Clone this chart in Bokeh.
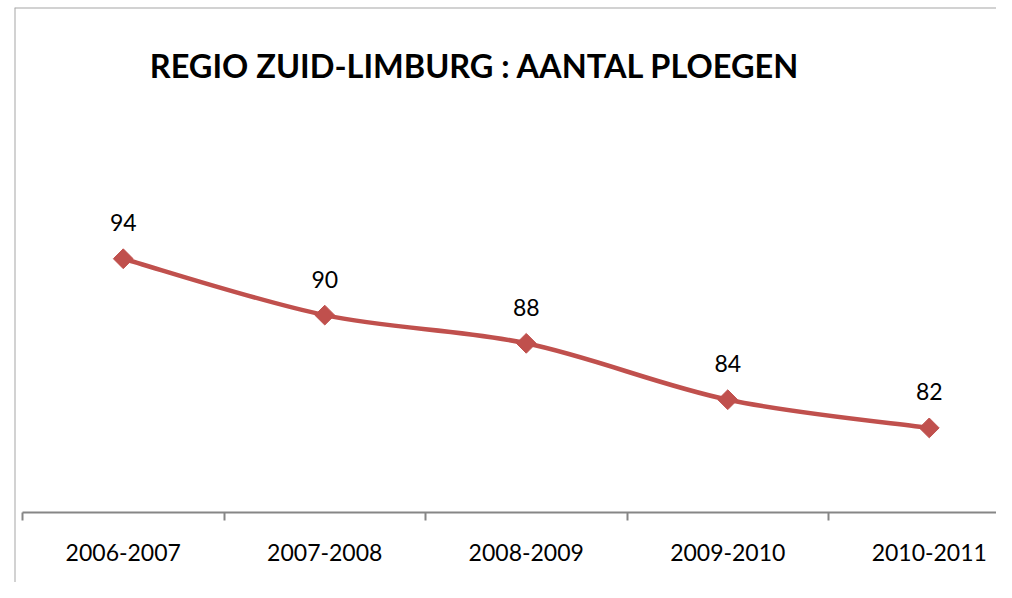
import numpy as np
from bokeh.plotting import figure
from bokeh.models import ColumnDataSource, FixedTicker, Label, Span, Range1d
from bokeh.core.properties import value
from bokeh.embed import file_html
from bokeh.resources import INLINE

# ---- data ----
seasons = ["2006-2007", "2007-2008", "2008-2009", "2009-2010", "2010-2011"]
ploegen = [94, 90, 88, 84, 82]
title_text = "REGIO ZUID-LIMBURG : AANTAL PLOEGEN"

RED = "#C0504D"
AXIS = "#868686"
BORDER = "#A6A6A6"
FONT = "Lato"

xc = np.arange(len(seasons)) + 0.5          # category centres
yv = np.array(ploegen, dtype=float)

# Excel-like smoothing: cubic Bezier control points (Catmull-Rom)
xe = np.concatenate([[xc[0]], xc, [xc[-1]]])
ye = np.concatenate([[yv[0]], yv, [yv[-1]]])
n = len(xc)
seg = dict(x0=[], y0=[], x1=[], y1=[], cx0=[], cy0=[], cx1=[], cy1=[])
for i in range(n - 1):
    a, b, c, d = i, i + 1, i + 2, i + 3
    seg["x0"].append(xe[b]); seg["y0"].append(ye[b])
    seg["x1"].append(xe[c]); seg["y1"].append(ye[c])
    seg["cx0"].append(xe[b] + (xe[c] - xe[a]) / 6.0)
    seg["cy0"].append(ye[b] + (ye[c] - ye[a]) / 6.0)
    seg["cx1"].append(xe[c] - (xe[d] - xe[b]) / 6.0)
    seg["cy1"].append(ye[c] - (ye[d] - ye[b]) / 6.0)

src = ColumnDataSource(dict(x=xc, y=yv, lbl=[str(v) for v in ploegen]))
bez = ColumnDataSource(seg)

X0, X1 = -0.0397, 4.8337
Y0, Y1 = 71.035, 111.82

p = figure(width=996, height=582, output_backend="svg", toolbar_location=None,
           x_range=Range1d(X0, X1), y_range=Range1d(Y0, Y1),
           x_axis_location="below", y_axis_location=None,
           min_border_left=14, min_border_right=0, min_border_top=7, min_border_bottom=0)
p.outline_line_color = None
p.xgrid.visible = False
p.ygrid.visible = False
p.background_fill_color = "white"
p.border_fill_color = "white"

# chart-area border (left and top visible in the reference)
p.add_layout(Span(location=X0, dimension="height", line_color=BORDER, line_width=2))
p.add_layout(Span(location=Y1, dimension="width", line_color=BORDER, line_width=2))

# category axis
ax = p.xaxis[0]
ax.fixed_location = 76
ax.bounds = (0, len(seasons))
ax.ticker = FixedTicker(ticks=list(xc), minor_ticks=list(range(len(seasons) + 1)))
ax.major_label_overrides = {float(x): s for x, s in zip(xc, seasons)}
ax.axis_line_color = AXIS
ax.axis_line_width = 2
ax.major_tick_line_color = None
ax.major_tick_out = 0
ax.major_tick_in = 0
ax.minor_tick_line_color = AXIS
ax.minor_tick_line_width = 2
ax.minor_tick_out = 8
ax.minor_tick_in = 0
ax.major_label_text_font = FONT
ax.major_label_text_font_size = "23px"
ax.major_label_text_color = "black"
ax.major_label_standoff = 23

# smoothed line + diamond markers
p.bezier(x0="x0", y0="y0", x1="x1", y1="y1", cx0="cx0", cy0="cy0", cx1="cx1", cy1="cy1",
         source=bez, line_color=RED, line_width=4.5)
p.scatter("x", "y", source=src, marker="square", size=14, angle=np.pi / 4,
          fill_color=RED, line_color=RED, line_width=1)

# data labels
p.text("x", "y", text="lbl", source=src, y_offset=-36, text_align="center",
       text_baseline="middle", text_font=value(FONT), text_font_size="23px",
       text_color="black")

# chart title
p.add_layout(Label(x=2.2457, y=107.74, text=title_text, text_align="center",
                   text_baseline="middle", text_font=FONT, text_font_size="32.5px",
                   text_font_style="bold", text_color="black"))

open("out.html", "w").write(file_html(p, INLINE))
